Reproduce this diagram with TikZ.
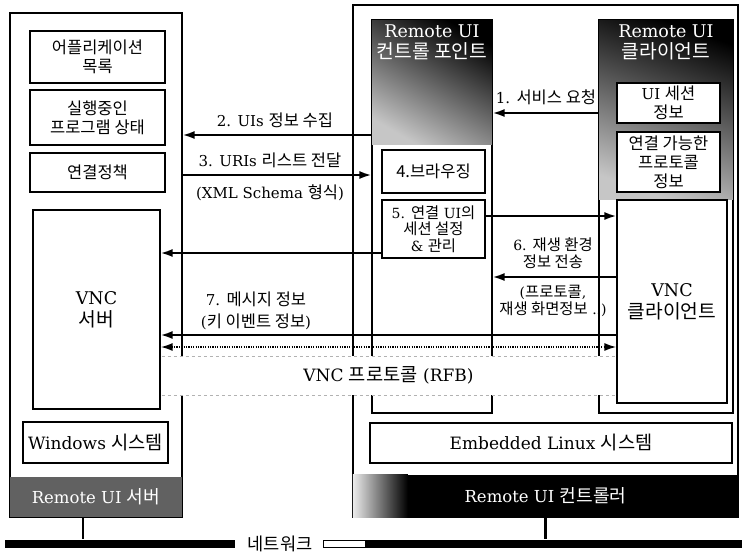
\documentclass[tikz,border=0pt]{standalone}
\usepackage{fontspec}
\setmainfont{DejaVu Serif}
\newfontfamily\krfont[Scale=1.1]{Noto Sans CJK KR}
\newcommand\ko[1]{{\krfont #1}}
\usetikzlibrary{
  arrows.meta,
  positioning,
  calc
}

\begin{document}
\begin{tikzpicture}[
  x=1pt, y=-1pt,
  font=\fontsize{15}{19}\selectfont,
  frame/.style={
    rectangle, draw=black, line width=1.1pt, fill=white,
    inner sep=0pt
  },
  box/.style={
    rectangle, draw=black, line width=1.1pt, fill=white,
    align=center, inner sep=0pt
  },
  big/.style={font=\fontsize{17.5}{22}\selectfont},
  sys/.style={font=\fontsize{17}{20}\selectfont},
  band/.style={rectangle, inner sep=0pt, text=white, font=\fontsize{16.5}{20}\selectfont},
  head/.style={align=center, inner sep=0pt, text=white, font=\fontsize{17.5}{21}\selectfont},
  msg/.style={align=center, inner sep=0pt},
  arrow/.style={-{Latex[length=12pt, width=8pt]}, line width=2.1pt},
  dotarrow/.style={{Latex[length=12pt, width=8pt]}-{Latex[length=12pt, width=8pt]},
    line width=2pt, dash pattern=on 1.3pt off 1.1pt},
]
\useasboundingbox (0,0) rectangle (742,552);

% Remote UI server
\node[frame, minimum width=172pt, minimum height=504pt] (srv) at (96,265) {};
\node[band, fill=black!62, minimum width=172pt, minimum height=40pt] (srvband) at (96,497) {Remote UI \ko{서버}};
\node[box, minimum width=135pt, minimum height=52pt] (apps) at (97.5,57) {\ko{어플리케이션}\\\ko{목록}};
\node[box, minimum width=135pt, minimum height=55pt] (runst) at (97.5,117.5) {\ko{실행중인}\\\ko{프로그램 상태}};
\node[box, minimum width=135pt, minimum height=39pt] (policy) at (97.5,172.5) {\ko{연결정책}};
\node[box, big, minimum width=127pt, minimum height=199pt] (vncsrv) at (96.5,309.5) {VNC\\\ko{서버}};
\node[box, sys, minimum width=145pt, minimum height=41pt] (winsys) at (95.5,442.5) {Windows \ko{시스템}};

% Remote UI controller
\node[frame, minimum width=385pt, minimum height=512pt] (ctrl) at (545.5,261) {};
\node[rectangle, fill=black, inner sep=0pt, minimum width=385pt, minimum height=42pt] (ctrlband) at (545.5,496) {};
\shade[left color=gray!15, right color=black] (ctrlband.south west) rectangle ([xshift=55pt]ctrlband.north west);
\node[band] (ctrllabel) at (ctrlband) {Remote UI \ko{컨트롤러}};

% control point column
\node[frame, minimum width=120pt, minimum height=393pt] (cp) at (432,216.5) {};
\shade[top color=black, middle color=black!85, bottom color=gray!45, shading angle=-30]
  (cp.north west) rectangle ($(cp.north east)+(0,125)$);
\draw[line width=1.1pt] (cp.south west) rectangle (cp.north east);
\node[head] (cphead) at (432,42) {Remote UI\\\ko{컨트롤 포인트}};
\node[box, minimum width=103pt, minimum height=43pt] (browse) at (433.5,171.5) {\ko{4.브라우징}};
\node[box, minimum width=103pt, minimum height=58pt, font=\fontsize{14}{16.5}\selectfont] (session) at (433.5,229)
  {5. \ko{연결} UI\ko{의}\\\ko{세션 설정}\\\& \ko{관리}};

% client column
\node[frame, minimum width=134pt, minimum height=393pt] (cl) at (666,216.5) {};
\shade[top color=black, middle color=black!70, bottom color=gray!45, shading angle=-20]
  (cl.north west) rectangle ($(cl.north east)+(0,180)$);
\draw[line width=1.1pt] (cl.south west) rectangle (cl.north east);
\node[head] (clhead) at (666,42) {Remote UI\\\ko{클라이언트}};
\node[box, minimum width=103pt, minimum height=40pt] (uisess) at (668.5,103) {UI \ko{세션}\\\ko{정보}};
\node[box, minimum width=103pt, minimum height=60pt] (proto) at (668.5,162) {\ko{연결 가능한}\\\ko{프로토콜}\\\ko{정보}};
\node[box, big, minimum width=110pt, minimum height=203pt] (vnccl) at (672,301.5) {VNC\\\ko{클라이언트}};

\node[box, sys, minimum width=362pt, minimum height=40pt] (emb) at (551,443) {Embedded Linux \ko{시스템}};

% messages
\draw[arrow] (cl.west |- 0,113) -- (cp.east |- 0,113);
\node[msg] (m1) at (546,97) {1. \ko{서비스 요청}};
\draw[arrow] (cp.west |- 0,135) -- (srv.east |- 0,135);
\node[msg] (m2) at (275,120) {2. UIs \ko{정보 수집}};
\draw[arrow] (srv.east |- 0,175) -- (cp.west |- 0,175);
\node[msg] (m3) at (270,160) {3. URIs \ko{리스트 전달}};
\node[msg] (m3b) at (270,193) {(XML Schema \ko{형식})};
\draw[arrow] (session.west |- 0,253) -- (vncsrv.east |- 0,253);
\draw[arrow] (session.east |- 0,216) -- (vnccl.west |- 0,216);
\draw[arrow] (vnccl.west |- 0,277) -- (cp.east |- 0,277);
\node[msg, font=\fontsize{14}{17}\selectfont] (m6) at (553,253) {6. \ko{재생 환경}\\\ko{정보 전송}};
\node[msg, font=\fontsize{14}{17}\selectfont] (m6b) at (553,301) {(\ko{프로토콜},\\\ko{재생 화면정보} ..)};
\draw[arrow] (vnccl.west |- 0,335) -- (vncsrv.east |- 0,335);
\node[msg, font=\fontsize{15}{22}\selectfont] (m7) at (256,311) {7. \ko{메시지 정보}\\(\ko{키 이벤트 정보})};
\draw[dotarrow] (vncsrv.east |- 0,347) -- (vnccl.west |- 0,347);

% VNC protocol band
\node[rectangle, fill=white, inner sep=0pt, minimum width=453pt, minimum height=39pt, font=\fontsize{17}{20}\selectfont]
  (rfb) at (388.5,375.5) {VNC \ko{프로토콜} (RFB)};
\draw[gray!60, dashed] (rfb.north west) -- (rfb.north east);
\draw[gray!60, dashed] (rfb.south west) -- (rfb.south east);

% network
\node[rectangle, fill=black, inner sep=0pt, minimum width=230pt, minimum height=8pt] (netL) at (120,543.5) {};
\node[inner sep=0pt, font=\krfont\fontsize{16}{18}\selectfont] (netlabel) at (280,544) {네트워크};
\node[rectangle, draw=black, line width=0.8pt, fill=white, inner sep=0pt, minimum width=42pt, minimum height=7pt] (netgap) at (344,543.5) {};
\node[rectangle, fill=black, inner sep=0pt, minimum width=377pt, minimum height=8pt] (netR) at (553.5,543.5) {};
\draw[line width=2.5pt] ([xshift=-13pt]srvband.south) -- ([xshift=-13pt]srvband.south |- netL.north);
\draw[line width=2.5pt] (ctrlband.south) -- (ctrlband.south |- netR.north);

\end{tikzpicture}
\end{document}
